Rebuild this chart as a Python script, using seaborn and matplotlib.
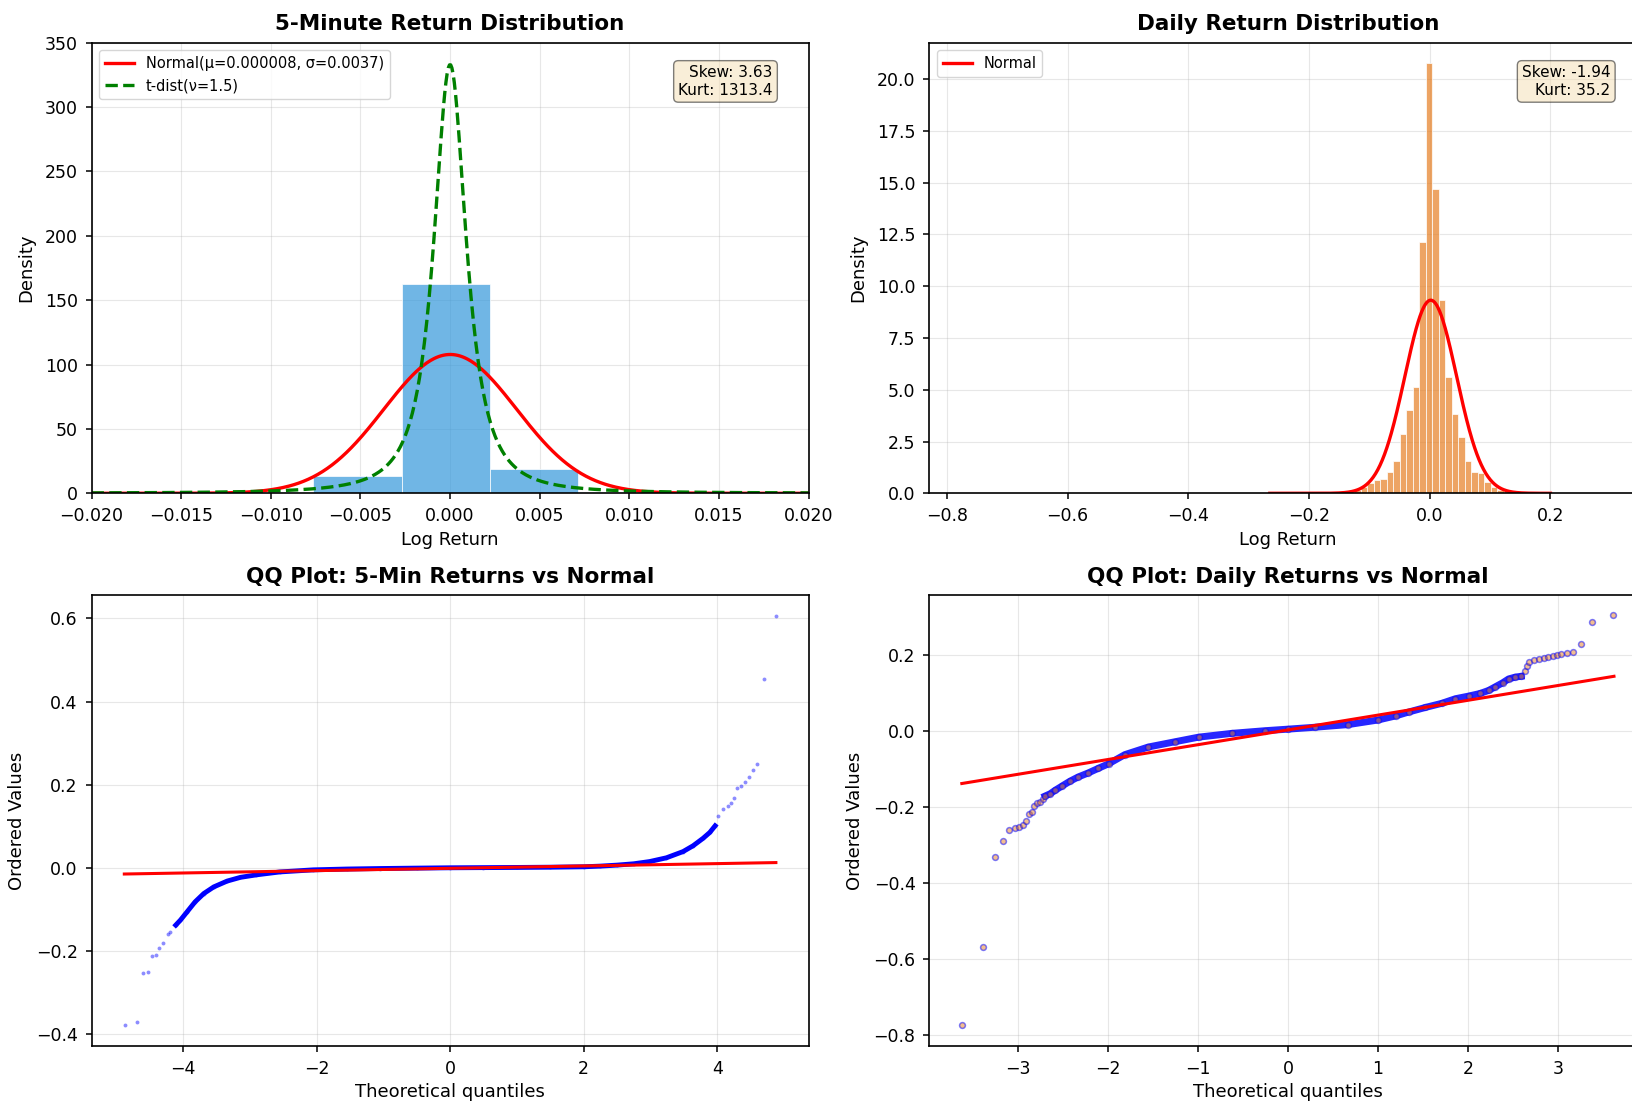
import math
import numpy as np
import pandas as pd
import matplotlib
matplotlib.use("Agg")
import matplotlib.pyplot as plt
import seaborn as sns

# ---------------- data ----------------
# 5-minute returns histogram (density)
m5_bin_edges = [-0.01747, -0.01255, -0.00763, -0.00271, 0.00221, 0.00713, 0.01205, 0.01697]
m5_density = [0.2, 0.7, 13.5, 162.3, 18.9, 1.0, 0.3]
m5_mu, m5_sigma = 0.000008, 0.0037
m5_t_nu, m5_t_loc, m5_t_scale = 1.5, 0.0, 0.001023
m5_skew, m5_kurt = 3.63, 1313.4

# daily returns histogram (density), bin width 0.0108
daily_first_edge = -0.1363
daily_bin_width = 0.0108
daily_density = [0.05, 0.16, 0.30, 0.50, 0.65, 0.70, 1.02, 1.57, 2.84, 4.0, 5.13, 12.15,
                 20.75, 14.7, 9.35, 5.6, 3.85, 2.72, 1.55, 1.04, 0.96, 0.56, 0.32, 0.16,
                 0.10, 0.08]
daily_mu, daily_sigma = 0.0017, 0.0428
daily_curve_range = (-0.265, 0.20)
daily_skew, daily_kurt = -1.94, 35.2

# QQ plot 5-min (theoretical quantile, ordered value)
qq5_theo = [-4.87, -4.69, -4.60, -4.52, -4.47, -4.40, -4.36, -4.30, -4.23, -4.19, -4.11,
            -4.04, -3.94, -3.82, -3.69, -3.54, -3.34, -3.14, -2.90, -2.55, -2.05, -1.55,
            -1.05, -0.5, 0.0, 0.5, 1.0, 1.5, 2.0, 2.25, 2.50, 2.75, 2.99, 3.24, 3.49,
            3.64, 3.79, 3.89, 3.97, 4.01, 4.09, 4.16, 4.21, 4.26, 4.30, 4.36, 4.41, 4.48,
            4.53, 4.60, 4.70, 4.876]
qq5_vals = [-0.379, -0.370, -0.254, -0.250, -0.212, -0.210, -0.192, -0.182, -0.160,
            -0.154, -0.138, -0.126, -0.106, -0.082, -0.062, -0.046, -0.032, -0.023,
            -0.017, -0.010, -0.005, -0.0030, -0.0018, -0.0008, 0.0, 0.0004, 0.0008,
            0.0014, 0.0024, 0.004, 0.0064, 0.0096, 0.015, 0.024, 0.039, 0.053, 0.071,
            0.085, 0.101, 0.124, 0.141, 0.149, 0.157, 0.169, 0.193, 0.197, 0.207, 0.219,
            0.235, 0.250, 0.454, 0.606]
qq5_line_x = [-4.88, 4.88]
qq5_line_y = [-0.0150, 0.0125]
qq5_dense = (-4.15, 3.98)

# QQ plot daily
qqd_theo = [-3.615, -3.389, -3.256, -3.167, -3.096, -3.03, -2.985, -2.944, -2.907,
            -2.874, -2.837, -2.815, -2.789, -2.752, -2.722, -2.696, -2.64, -2.585,
            -2.51, -2.42, -2.33, -2.215, -2.104, -1.99, -1.81, -1.55, -1.25, -0.99,
            -0.62, -0.25, 0.0, 0.30, 0.67, 1.0, 1.2, 1.34, 1.526, 1.71, 1.86, 2.007,
            2.137, 2.23, 2.30, 2.385, 2.45, 2.526, 2.59, 2.63, 2.655, 2.68, 2.73,
            2.785, 2.841, 2.889, 2.941, 2.989, 3.033, 3.093, 3.163, 3.252, 3.381, 3.611]
qqd_vals = [-0.773, -0.568, -0.333, -0.289, -0.262, -0.257, -0.253, -0.247, -0.238,
            -0.218, -0.214, -0.199, -0.189, -0.187, -0.181, -0.172, -0.166, -0.157,
            -0.146, -0.133, -0.122, -0.111, -0.099, -0.087, -0.063, -0.043, -0.029,
            -0.017, -0.007, 0.0, 0.004, 0.009, 0.016, 0.028, 0.039, 0.049, 0.061,
            0.072, 0.084, 0.091, 0.098, 0.106, 0.115, 0.126, 0.136, 0.141, 0.143,
            0.156, 0.170, 0.180, 0.185, 0.189, 0.191, 0.194, 0.197, 0.198, 0.201,
            0.204, 0.208, 0.229, 0.286, 0.304]
qqd_line_x = [-3.62, 3.62]
qqd_line_y = [-0.139, 0.143]
qqd_dense = (-2.70, 2.60)

# ---------------- figure ----------------
TICK, LABEL, TITLE, LEG = 12.5, 13, 15.5, 10.5
plt.rcParams["axes.linewidth"] = 1.2
fig = plt.figure(figsize=(16.32, 11.03), dpi=100)
W, H = 1632, 1103
def rect(l, t, w, h):
    return [l / W, 1 - (t + h) / H, w / W, h / H]

ax1 = fig.add_axes(rect(91.6, 42.7, 717, 450.6))
ax2 = fig.add_axes(rect(929.4, 42.7, 717, 450.6))
ax3 = fig.add_axes(rect(91.6, 595.3, 717, 450.6))
ax4 = fig.add_axes(rect(929.4, 595.3, 717, 450.6))

def style(ax, title, xlabel, ylabel):
    ax.set_title(title, fontsize=TITLE, fontweight="bold", pad=9)
    ax.set_xlabel(xlabel, fontsize=LABEL, labelpad=4)
    ax.set_ylabel(ylabel, fontsize=LABEL, labelpad=7)
    ax.tick_params(labelsize=TICK, pad=5.5, width=1.1, length=4.5)
    ax.grid(True, alpha=0.3)
    ax.set_axisbelow(True)

# --- panel 1: 5-minute distribution
edges5 = [float(e) for e in m5_bin_edges]
centers5 = [(a + b) / 2 for a, b in zip(edges5[:-1], edges5[1:])]
h5 = pd.DataFrame({"ret": centers5, "dens": m5_density})
sns.histplot(data=h5, x="ret", weights="dens", bins=edges5, stat="count",
             color="#3498db", alpha=0.7, edgecolor="white", linewidth=0.5, ax=ax1)
xs = np.linspace(-0.02, 0.02, 600)
norm5 = np.exp(-0.5 * ((xs - m5_mu) / m5_sigma) ** 2) / (m5_sigma * math.sqrt(2 * math.pi))
nu = m5_t_nu
z = (xs - m5_t_loc) / m5_t_scale
tconst = math.gamma((nu + 1) / 2) / (math.sqrt(nu * math.pi) * math.gamma(nu / 2))
t5 = tconst * (1 + z ** 2 / nu) ** (-(nu + 1) / 2) / m5_t_scale
sns.lineplot(x=xs, y=norm5, color="red", lw=2.4,
             label=f"Normal(\u03bc={m5_mu:.6f}, \u03c3={m5_sigma:.4f})", ax=ax1)
sns.lineplot(x=xs, y=t5, color="green", lw=2.4, linestyle="--",
             label=f"t-dist(\u03bd={m5_t_nu})", ax=ax1)
ax1.set_xlim(-0.02, 0.02)
ax1.set_ylim(0, 350)
style(ax1, "5-Minute Return Distribution", "Log Return", "Density")
ax1.legend(loc="upper left", fontsize=LEG)
ax1.text(0.95, 0.95, f"Skew: {m5_skew:.2f}\nKurt: {m5_kurt:.1f}", transform=ax1.transAxes,
         ha="right", va="top", fontsize=11,
         bbox=dict(boxstyle="round", facecolor="wheat", alpha=0.5))

# --- panel 2: daily distribution
edgesd = [daily_first_edge + daily_bin_width * i for i in range(len(daily_density) + 1)]
centersd = [(a + b) / 2 for a, b in zip(edgesd[:-1], edgesd[1:])]
hd = pd.DataFrame({"ret": centersd, "dens": daily_density})
sns.histplot(data=hd, x="ret", weights="dens", bins=edgesd, stat="count",
             color="#e67e22", alpha=0.7, edgecolor="white", linewidth=0.5, ax=ax2)
xd = np.linspace(daily_curve_range[0], daily_curve_range[1], 500)
normd = np.exp(-0.5 * ((xd - daily_mu) / daily_sigma) ** 2) / (daily_sigma * math.sqrt(2 * math.pi))
sns.lineplot(x=xd, y=normd, color="red", lw=2.4, label="Normal", ax=ax2)
ax2.set_xlim(-0.829, 0.359)
ax2.set_ylim(0, 21.75)
ax2.set_yticks(np.arange(0, 20.01, 2.5))
style(ax2, "Daily Return Distribution", "Log Return", "Density")
ax2.legend(loc="upper left", fontsize=LEG)
ax2.text(0.95, 0.95, f"Skew: {daily_skew:.2f}\nKurt: {daily_kurt:.1f}", transform=ax2.transAxes,
         ha="right", va="top", fontsize=11,
         bbox=dict(boxstyle="round", facecolor="wheat", alpha=0.5))

# --- panel 3: QQ 5-min
q5 = pd.DataFrame({"theo": qq5_theo, "val": qq5_vals})
core5 = q5[(q5.theo >= qq5_dense[0]) & (q5.theo <= qq5_dense[1])]
sns.lineplot(data=core5, x="theo", y="val", sort=False, color="blue", lw=3.5, ax=ax3)
ax3.plot(q5.theo, q5.val, "o", color="blue", ms=2.8, alpha=0.45, mew=0)
sns.lineplot(x=qq5_line_x, y=qq5_line_y, color="red", lw=2.2, ax=ax3)
ax3.set_xlim(-5.37, 5.37)
ax3.set_ylim(-0.4285, 0.6555)
style(ax3, "QQ Plot: 5-Min Returns vs Normal", "Theoretical quantiles", "Ordered Values")

# --- panel 4: QQ daily
qd = pd.DataFrame({"theo": qqd_theo, "val": qqd_vals})
cored = qd[(qd.theo >= qqd_dense[0]) & (qd.theo <= qqd_dense[1])]
sns.lineplot(data=cored, x="theo", y="val", sort=False, color="blue", lw=5, alpha=0.85, ax=ax4)
ax4.plot(qd.theo, qd.val, "o", mfc="#e67e22", mec="blue", ms=4.2, mew=1.1, alpha=0.5)
sns.lineplot(x=qqd_line_x, y=qqd_line_y, color="red", lw=2.2, ax=ax4)
ax4.set_xlim(-3.98, 3.98)
ax4.set_ylim(-0.829, 0.356)
style(ax4, "QQ Plot: Daily Returns vs Normal", "Theoretical quantiles", "Ordered Values")

fig.savefig("out.png", dpi=100)
